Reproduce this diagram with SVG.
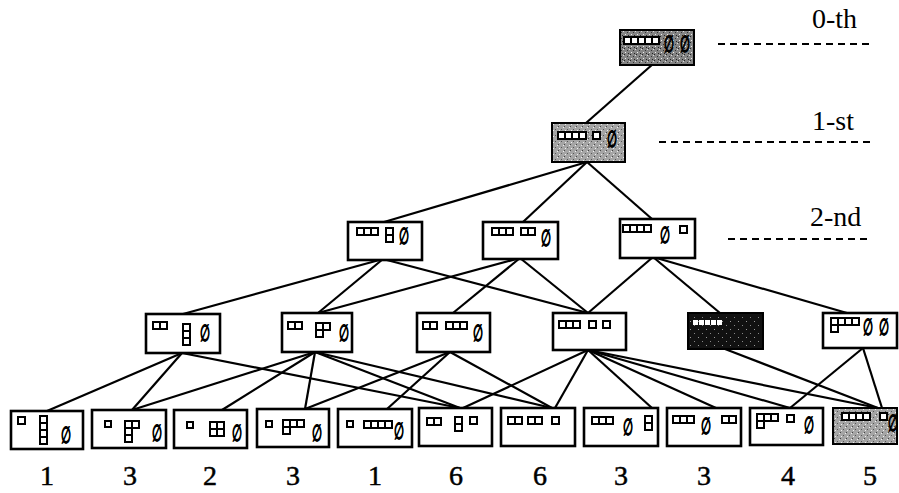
<svg xmlns="http://www.w3.org/2000/svg" width="899" height="493" viewBox="0 0 899 493">
<defs>
<pattern id="stipDark" width="6" height="6" patternUnits="userSpaceOnUse">
<rect width="6" height="6" fill="#858585"/>
<rect x="0" y="0" width="1" height="1" fill="#222"/>
<rect x="3" y="2" width="1" height="1" fill="#333"/>
<rect x="1" y="4" width="1" height="1" fill="#eee"/>
<rect x="4" y="5" width="1" height="1" fill="#222"/>
<rect x="5" y="1" width="1" height="1" fill="#ddd"/>
</pattern>
<pattern id="stipLight" width="6" height="6" patternUnits="userSpaceOnUse">
<rect width="6" height="6" fill="#a5a5a5"/>
<rect x="0" y="0" width="1" height="1" fill="#444"/>
<rect x="3" y="3" width="1" height="1" fill="#555"/>
<rect x="1" y="4" width="1" height="1" fill="#eee"/>
<rect x="5" y="1" width="1" height="1" fill="#eee"/>
</pattern>
<pattern id="stipBlack" width="8" height="8" patternUnits="userSpaceOnUse">
<rect width="8" height="8" fill="#111"/>
<rect x="2" y="1" width="1" height="1" fill="#999"/>
<rect x="6" y="5" width="1" height="1" fill="#888"/>
</pattern>
</defs>
<style>
.box{fill:#fff;stroke:#000;stroke-width:2.6}
.c{fill:#fff;stroke:#000;stroke-width:2}
.e{fill:#000;stroke:#000;stroke-width:1.4;font-family:"DejaVu Sans",sans-serif;font-size:23px;text-anchor:middle}
.num{fill:#000;stroke:#000;stroke-width:0.5;font-family:"Liberation Serif",serif;font-size:28px;text-anchor:middle}
.lvl{fill:#000;font-family:"Liberation Serif",serif;font-size:28px}
.dash{stroke:#000;stroke-width:2.2;stroke-dasharray:7,5;fill:none}
#edges line{stroke:#000;stroke-width:2.2}
</style>
<rect width="899" height="493" fill="#fff"/>

<g id="levels">
<text class="lvl" x="812" y="28">0-th</text>
<line class="dash" x1="718" y1="44" x2="870" y2="44"/>
<text class="lvl" x="812" y="130">1-st</text>
<line class="dash" x1="659" y1="142" x2="870" y2="142"/>
<text class="lvl" x="810" y="226">2-nd</text>
<line class="dash" x1="728" y1="239" x2="872" y2="239"/>
</g>

<g id="edges">
<line x1="653" y1="64" x2="586" y2="123"/>
<line x1="587" y1="162" x2="384" y2="222"/>
<line x1="587" y1="162" x2="523" y2="222"/>
<line x1="587" y1="162" x2="652" y2="219"/>
<line x1="383" y1="259" x2="183" y2="314"/>
<line x1="383" y1="259" x2="318" y2="313"/>
<line x1="383" y1="259" x2="588" y2="313"/>
<line x1="520" y1="258" x2="318" y2="313"/>
<line x1="520" y1="258" x2="453" y2="313"/>
<line x1="520" y1="258" x2="588" y2="313"/>
<line x1="653" y1="257" x2="588" y2="313"/>
<line x1="653" y1="257" x2="720" y2="313"/>
<line x1="653" y1="257" x2="847" y2="313"/>
<line x1="182" y1="353" x2="47" y2="411"/>
<line x1="182" y1="353" x2="132" y2="410"/>
<line x1="182" y1="353" x2="460" y2="408"/>
<line x1="315" y1="352" x2="132" y2="410"/>
<line x1="315" y1="352" x2="222" y2="410"/>
<line x1="315" y1="352" x2="305" y2="409"/>
<line x1="315" y1="352" x2="460" y2="408"/>
<line x1="315" y1="352" x2="552" y2="408"/>
<line x1="450" y1="352" x2="305" y2="409"/>
<line x1="450" y1="352" x2="387" y2="409"/>
<line x1="450" y1="352" x2="552" y2="408"/>
<line x1="588" y1="350" x2="463" y2="408"/>
<line x1="588" y1="350" x2="555" y2="408"/>
<line x1="588" y1="350" x2="652" y2="408"/>
<line x1="588" y1="350" x2="716" y2="408"/>
<line x1="588" y1="350" x2="790" y2="408"/>
<line x1="588" y1="350" x2="878" y2="408"/>
<line x1="725" y1="349" x2="878" y2="408"/>
<line x1="863" y1="348" x2="790" y2="408"/>
<line x1="863" y1="348" x2="882" y2="408"/>
</g>

<g id="n0">
<rect x="620" y="30" width="74" height="35" fill="url(#stipDark)" stroke="#000" stroke-width="2"/>
<rect class="c" x="624" y="37" width="7" height="7"/><rect class="c" x="631" y="37" width="7" height="7"/><rect class="c" x="638" y="37" width="7" height="7"/><rect class="c" x="645" y="37" width="7" height="7"/><rect class="c" x="652" y="37" width="7" height="7"/>
<text class="e" transform="translate(669,52) scale(0.5,1)">∅</text>
<text class="e" transform="translate(685,52) scale(0.5,1)">∅</text>
</g>

<g id="n1">
<rect x="552" y="123" width="73" height="39" fill="url(#stipLight)" stroke="#000" stroke-width="2"/>
<rect class="c" x="558" y="132" width="7" height="7"/><rect class="c" x="565" y="132" width="7" height="7"/><rect class="c" x="572" y="132" width="7" height="7"/><rect class="c" x="579" y="132" width="7" height="7"/>
<rect class="c" x="593" y="132" width="7" height="7"/>
<text class="e" transform="translate(612,147) scale(0.5,1)">∅</text>
</g>

<g id="n2a">
<rect class="box" x="348" y="222" width="74" height="38"/>
<rect class="c" x="357" y="228" width="7" height="7"/><rect class="c" x="364" y="228" width="7" height="7"/><rect class="c" x="371" y="228" width="7" height="7"/>
<rect class="c" x="386" y="228" width="7" height="7"/><rect class="c" x="386" y="235" width="7" height="7"/>
<text class="e" transform="translate(404,244) scale(0.5,1)">∅</text>
</g>

<g id="n2b">
<rect class="box" x="483" y="222" width="75" height="37"/>
<rect class="c" x="492" y="228" width="7" height="7"/><rect class="c" x="499" y="228" width="7" height="7"/><rect class="c" x="506" y="228" width="7" height="7"/>
<rect class="c" x="521" y="228" width="7" height="7"/><rect class="c" x="528" y="228" width="7" height="7"/>
<text class="e" transform="translate(546,246) scale(0.5,1)">∅</text>
</g>

<g id="n2c">
<rect class="box" x="620" y="219" width="75" height="39"/>
<rect class="c" x="623" y="225" width="7" height="7"/><rect class="c" x="630" y="225" width="7" height="7"/><rect class="c" x="637" y="225" width="7" height="7"/><rect class="c" x="644" y="225" width="7" height="7"/>
<text class="e" transform="translate(665,243) scale(0.5,1)">∅</text>
<rect class="c" x="680" y="226" width="7" height="7"/>
</g>

<g id="n3d">
<rect class="box" x="146" y="314" width="74" height="39"/>
<rect class="c" x="153" y="322" width="7" height="7"/><rect class="c" x="160" y="322" width="7" height="7"/>
<rect class="c" x="183" y="324" width="7" height="7"/><rect class="c" x="183" y="331" width="7" height="7"/><rect class="c" x="183" y="338" width="7" height="7"/>
<text class="e" transform="translate(205,341) scale(0.5,1)">∅</text>
</g>

<g id="n3e">
<rect class="box" x="282" y="313" width="70" height="39"/>
<rect class="c" x="288" y="322" width="7" height="7"/><rect class="c" x="295" y="322" width="7" height="7"/>
<rect class="c" x="316" y="323" width="7" height="7"/><rect class="c" x="323" y="323" width="7" height="7"/><rect class="c" x="316" y="330" width="7" height="7"/>
<text class="e" transform="translate(344,341) scale(0.5,1)">∅</text>
</g>

<g id="n3f">
<rect class="box" x="417" y="313" width="73" height="39"/>
<rect class="c" x="423" y="322" width="7" height="7"/><rect class="c" x="430" y="322" width="7" height="7"/>
<rect class="c" x="446" y="322" width="7" height="7"/><rect class="c" x="453" y="322" width="7" height="7"/><rect class="c" x="460" y="322" width="7" height="7"/>
<text class="e" transform="translate(478,341) scale(0.5,1)">∅</text>
</g>

<g id="n3g">
<rect class="box" x="553" y="313" width="73" height="37"/>
<rect class="c" x="559" y="321" width="7" height="7"/><rect class="c" x="566" y="321" width="7" height="7"/><rect class="c" x="573" y="321" width="7" height="7"/>
<rect class="c" x="589" y="321" width="7" height="7"/>
<rect class="c" x="603" y="321" width="7" height="7"/>
</g>

<g id="n3h">
<rect x="688" y="313" width="75" height="36" fill="url(#stipBlack)" stroke="#000" stroke-width="2"/>
<rect x="693" y="320" width="5" height="5" fill="#fff"/><rect x="699" y="320" width="5" height="5" fill="#fff"/><rect x="705" y="320" width="5" height="5" fill="#fff"/><rect x="711" y="320" width="5" height="5" fill="#fff"/><rect x="717" y="320" width="5" height="5" fill="#fff"/>
</g>

<g id="n3i">
<rect class="box" x="823" y="313" width="74" height="35"/>
<rect class="c" x="831" y="318" width="7" height="7"/><rect class="c" x="838" y="318" width="7" height="7"/><rect class="c" x="845" y="318" width="7" height="7"/><rect class="c" x="852" y="318" width="7" height="7"/>
<rect class="c" x="831" y="325" width="7" height="7"/>
<text class="e" transform="translate(868,335) scale(0.5,1)">∅</text>
<text class="e" transform="translate(884,335) scale(0.5,1)">∅</text>
</g>

<g id="b1">
<rect class="box" x="11" y="411" width="72" height="38"/>
<rect class="c" x="18" y="417" width="7" height="7"/>
<rect class="c" x="40" y="416" width="7" height="7"/><rect class="c" x="40" y="423" width="7" height="7"/><rect class="c" x="40" y="430" width="7" height="7"/><rect class="c" x="40" y="437" width="7" height="7"/>
<text class="e" transform="translate(66,443) scale(0.5,1)">∅</text>
</g>

<g id="b2">
<rect class="box" x="92" y="410" width="74" height="38"/>
<rect class="c" x="105" y="421" width="6" height="6"/>
<rect class="c" x="125" y="421" width="7" height="7"/><rect class="c" x="132" y="421" width="7" height="7"/><rect class="c" x="125" y="428" width="7" height="7"/><rect class="c" x="125" y="435" width="7" height="7"/>
<text class="e" transform="translate(157,441) scale(0.5,1)">∅</text>
</g>

<g id="b3">
<rect class="box" x="174" y="410" width="73" height="38"/>
<rect class="c" x="187" y="422" width="6" height="6"/>
<rect class="c" x="210" y="422" width="7" height="7"/><rect class="c" x="217" y="422" width="7" height="7"/><rect class="c" x="210" y="429" width="7" height="7"/><rect class="c" x="217" y="429" width="7" height="7"/>
<text class="e" transform="translate(237,441) scale(0.5,1)">∅</text>
</g>

<g id="b4">
<rect class="box" x="257" y="409" width="72" height="38"/>
<rect class="c" x="266" y="421" width="6" height="6"/>
<rect class="c" x="283" y="420" width="7" height="7"/><rect class="c" x="290" y="420" width="7" height="7"/><rect class="c" x="297" y="420" width="7" height="7"/><rect class="c" x="283" y="427" width="7" height="7"/>
<text class="e" transform="translate(317,441) scale(0.5,1)">∅</text>
</g>

<g id="b5">
<rect class="box" x="338" y="409" width="74" height="38"/>
<rect class="c" x="347" y="421" width="6" height="6"/>
<rect class="c" x="364" y="421" width="7" height="7"/><rect class="c" x="371" y="421" width="7" height="7"/><rect class="c" x="378" y="421" width="7" height="7"/><rect class="c" x="385" y="421" width="7" height="7"/>
<text class="e" transform="translate(399,439) scale(0.5,1)">∅</text>
</g>

<g id="b6">
<rect class="box" x="419" y="408" width="73" height="38"/>
<rect class="c" x="427" y="418" width="7" height="7"/><rect class="c" x="434" y="418" width="7" height="7"/>
<rect class="c" x="455" y="417" width="7" height="7"/><rect class="c" x="455" y="424" width="7" height="7"/>
<rect class="c" x="470" y="417" width="7" height="7"/>
</g>

<g id="b7">
<rect class="box" x="501" y="408" width="74" height="38"/>
<rect class="c" x="508" y="417" width="7" height="7"/><rect class="c" x="515" y="417" width="7" height="7"/>
<rect class="c" x="528" y="417" width="7" height="7"/><rect class="c" x="535" y="417" width="7" height="7"/>
<rect class="c" x="552" y="417" width="7" height="7"/>
</g>

<g id="b8">
<rect class="box" x="584" y="408" width="74" height="38"/>
<rect class="c" x="592" y="417" width="7" height="7"/><rect class="c" x="599" y="417" width="7" height="7"/><rect class="c" x="606" y="417" width="7" height="7"/>
<text class="e" transform="translate(628,435) scale(0.5,1)">∅</text>
<rect class="c" x="645" y="416" width="7" height="7"/><rect class="c" x="645" y="423" width="7" height="7"/>
</g>

<g id="b9">
<rect class="box" x="667" y="408" width="74" height="38"/>
<rect class="c" x="673" y="416" width="7" height="7"/><rect class="c" x="680" y="416" width="7" height="7"/><rect class="c" x="687" y="416" width="7" height="7"/>
<text class="e" transform="translate(706,434) scale(0.5,1)">∅</text>
<rect class="c" x="722" y="416" width="7" height="7"/><rect class="c" x="729" y="416" width="7" height="7"/>
</g>

<g id="b10">
<rect class="box" x="750" y="408" width="73" height="37"/>
<rect class="c" x="757" y="414" width="7" height="7"/><rect class="c" x="764" y="414" width="7" height="7"/><rect class="c" x="771" y="414" width="7" height="7"/><rect class="c" x="757" y="421" width="7" height="7"/>
<rect class="c" x="787" y="415" width="7" height="7"/>
<text class="e" transform="translate(809,433) scale(0.5,1)">∅</text>
</g>

<g id="b11">
<rect x="833" y="408" width="64" height="36" fill="url(#stipLight)" stroke="#000" stroke-width="2"/>
<rect class="c" x="842" y="413" width="7" height="7"/><rect class="c" x="849" y="413" width="7" height="7"/><rect class="c" x="856" y="413" width="7" height="7"/><rect class="c" x="863" y="413" width="7" height="7"/>
<rect class="c" x="880" y="413" width="7" height="7"/>
<text class="e" transform="translate(893,431) scale(0.5,1)">∅</text>
</g>

<g id="labels">
<text class="num" x="47" y="485">1</text>
<text class="num" x="130" y="485">3</text>
<text class="num" x="210" y="485">2</text>
<text class="num" x="293" y="485">3</text>
<text class="num" x="375" y="485">1</text>
<text class="num" x="456" y="485">6</text>
<text class="num" x="540" y="485">6</text>
<text class="num" x="621" y="485">3</text>
<text class="num" x="704" y="485">3</text>
<text class="num" x="788" y="485">4</text>
<text class="num" x="870" y="485">5</text>
</g>
</svg>
